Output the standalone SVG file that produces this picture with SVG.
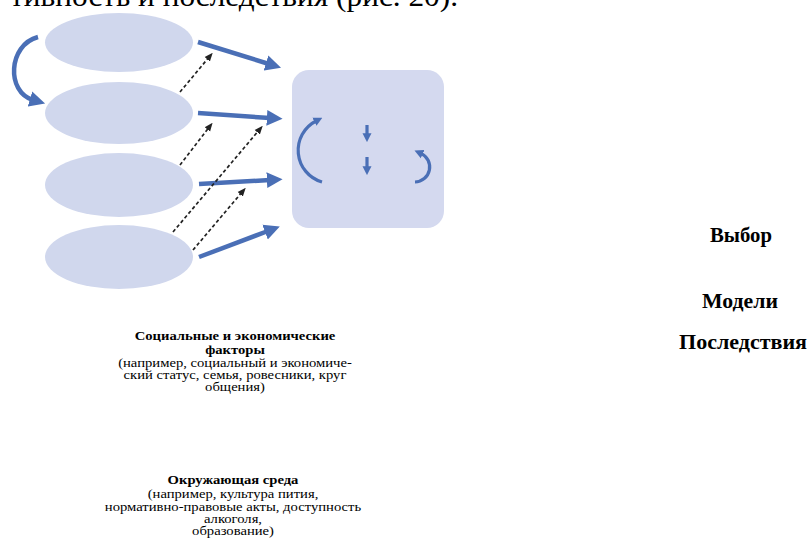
<svg xmlns="http://www.w3.org/2000/svg" width="809" height="552" viewBox="0 0 809 552">
<defs>
<style>
.el{fill:#d0d7ed}
.blue{fill:none;stroke:#4a6fb6;stroke-width:4.5}
.in{fill:none;stroke:#4a6fb6;stroke-width:3.2}
.dash{fill:none;stroke:#222;stroke-width:1.7;stroke-dasharray:3.5 2.5}
.b{font-weight:bold}
</style>
<marker id="ah" viewBox="0 0 10 10" refX="2" refY="5" markerWidth="3.5" markerHeight="3.8" orient="auto" markerUnits="strokeWidth"><path d="M0,0 L10,5 L0,10 Z" fill="#4a6fb6"/></marker>
<marker id="ahs" viewBox="0 0 10 10" refX="2" refY="5" markerWidth="2.8" markerHeight="4" orient="auto" markerUnits="strokeWidth"><path d="M0,0 L10,5 L0,10 Z" fill="#4a6fb6"/></marker>
<marker id="ad" viewBox="0 0 10 10" refX="5" refY="5" markerWidth="5" markerHeight="5" orient="auto" markerUnits="strokeWidth"><path d="M0,1 L10,5 L0,9 Z" fill="#222"/></marker>
</defs>
<rect width="809" height="552" fill="#fff"/>
<text font-family="Liberation Serif, Times New Roman, serif" x="10" y="5.5" font-size="29" textLength="448" lengthAdjust="spacingAndGlyphs">тивность и последствия (рис. 20).</text>
<g id="node-1"><ellipse class="el" cx="119" cy="42.5" rx="74" ry="29.5"/></g>
<g id="node-2"><ellipse class="el" cx="119" cy="113" rx="74" ry="31"/></g>
<g id="node-3"><ellipse class="el" cx="119" cy="185" rx="74" ry="32"/></g>
<g id="node-4"><ellipse class="el" cx="119" cy="257" rx="74" ry="32"/></g>
<g id="node-5"><rect x="292" y="70" width="152" height="158" rx="17" fill="#d4d9ef"/>
<path class="in" d="M322,182 A33,33 0 0 1 316,121" marker-end="url(#ahs)"/>
<path class="in" d="M367,125 L367,135" marker-end="url(#ahs)"/>
<path class="in" d="M367,157 L367,168" marker-end="url(#ahs)"/>
<path class="in" d="M415,182 A15,15 0 0 0 421,153.4" marker-end="url(#ahs)"/>
</g>
<g id="labels" font-family="Liberation Serif, Times New Roman, serif">
<g id="node-6" font-size="12" text-anchor="middle" transform="translate(235,0) scale(1.22,1)">
<text class="b" x="0" y="340">Социальные и экономические</text>
<text class="b" x="0" y="354">факторы</text>
<text x="0" y="367">(например, социальный и экономиче-</text>
<text x="0" y="379">ский статус, семья, ровесники, круг</text>
<text x="0" y="391">общения)</text>
</g>
<g id="node-7" font-size="12" text-anchor="middle" transform="translate(233,0) scale(1.22,1)">
<text class="b" x="0" y="484">Окружающая среда</text>
<text x="0" y="498">(например, культура пития,</text>
<text x="0" y="511">нормативно-правовые акты, доступность</text>
<text x="0" y="523">алкоголя,</text>
<text x="0" y="535">образование)</text>
</g>
<g id="node-8" class="b" font-size="20" text-anchor="middle">
<text x="741" y="242" textLength="62" lengthAdjust="spacingAndGlyphs">Выбор</text>
<text x="740" y="308" textLength="76" lengthAdjust="spacingAndGlyphs">Модели</text>
<text x="743" y="349" textLength="128" lengthAdjust="spacingAndGlyphs">Последствия</text>
</g>
</g>
<g id="connectors">
<path class="blue" d="M38,37 C8,45 6,92 33,100" marker-end="url(#ah)"/>
<path class="blue" d="M198,42 L269,64" marker-end="url(#ah)"/>
<path class="blue" d="M198,113 L270,118" marker-end="url(#ah)"/>
<path class="blue" d="M199,184 L270,180" marker-end="url(#ah)"/>
<path class="blue" d="M199,257 L268,231" marker-end="url(#ah)"/>
<path class="dash" d="M180,92 L210,56" marker-end="url(#ad)"/>
<path class="dash" d="M180,165 L210,126" marker-end="url(#ad)"/>
<path class="dash" d="M173,232 L260,129" marker-end="url(#ad)"/>
<path class="dash" d="M193,250 L243,191" marker-end="url(#ad)"/>
</g>
</svg>
